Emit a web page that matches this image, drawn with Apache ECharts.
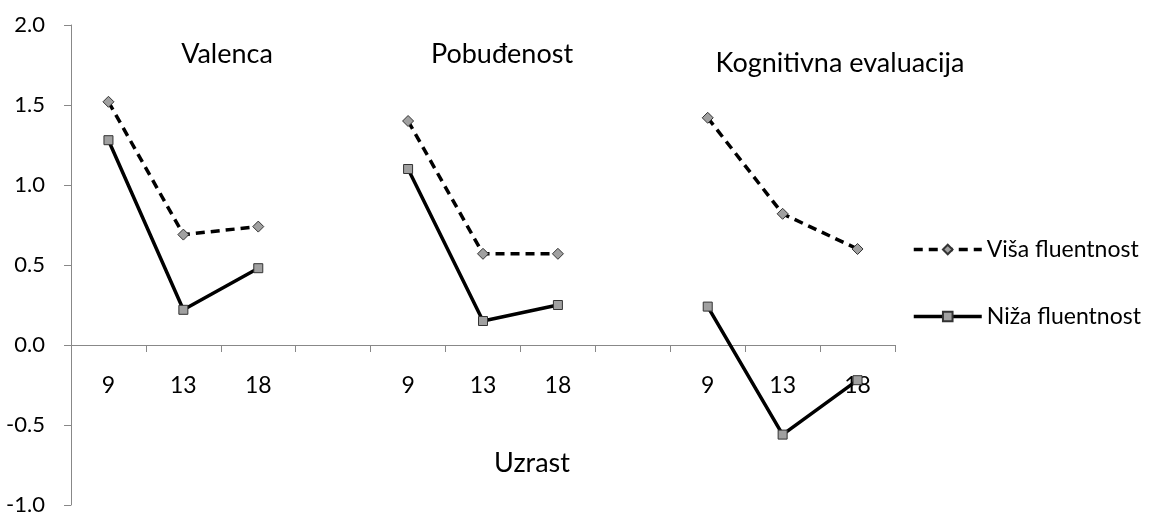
<!DOCTYPE html>
<html>
<head>
<meta charset="utf-8">
<script src="https://cdn.jsdelivr.net/npm/echarts@6/dist/echarts.min.js"></script>
<style>
html,body{margin:0;padding:0;background:#fff;}
#c{width:1151px;height:513px;}
</style>
</head>
<body>
<div id="c"></div>
<script>
const categories = ['9','13','18','','9','13','18','','9','13','18'];
const panelTitles = ['Valenca','Pobuđenost','Kognitivna evaluacija'];
const xAxisTitle = 'Uzrast';
const seriesNames = ['Viša fluentnost','Niža fluentnost'];
const visaValues = [1.52, 0.69, 0.74, null, 1.40, 0.57, 0.57, null, 1.42, 0.82, 0.60];
const nizaValues = [1.28, 0.22, 0.48, null, 1.10, 0.15, 0.25, null, 0.24, -0.56, -0.22];
const yTicks = [-1.0, -0.5, 0.0, 0.5, 1.0, 1.5, 2.0];

const FONT = 'Lato';
const W = 1151, H = 513;
const gridTop = 25, gridBottom = 8;
const yMin = yTicks[0], yMax = yTicks[yTicks.length-1];
const plotH = H - gridTop - gridBottom;
const zeroOffset = -plotH * (0 - yMin) / (yMax - yMin);

const chart = echarts.init(document.getElementById('c'));
const markerStyle = {color:'#a0a0a0', borderColor:'#333', borderWidth:1};
const titleStyle = {fontFamily:FONT,fontSize:27,fontWeight:'normal',color:'#000'};
chart.setOption({
  animation:false,
  textStyle:{fontFamily:FONT},
  grid:{left:71, right:256, top:gridTop, bottom:gridBottom, containLabel:false, outerBoundsMode:'none'},
  title:[
    {text:panelTitles[0], left:222, top:36, textAlign:'center', textStyle:titleStyle},
    {text:panelTitles[1], left:497, top:36, textAlign:'center', textStyle:titleStyle},
    {text:panelTitles[2], left:835, top:45, textAlign:'center', textStyle:titleStyle},
    {text:xAxisTitle, left:527, top:445, textAlign:'center', textStyle:titleStyle}
  ],
  legend:{
    orient:'vertical', left:907, top:233, itemGap:44, itemWidth:68, itemHeight:12,
    textStyle:{fontFamily:FONT,fontSize:23,color:'#000'},
    lineStyle:{width:3.5},
    data:seriesNames
  },
  xAxis:{
    type:'category', data:categories, boundaryGap:true, position:'bottom',
    offset:zeroOffset,
    axisLine:{onZero:false, lineStyle:{color:'#888',width:1}},
    axisTick:{show:true, interval:0, length:7, lineStyle:{color:'#888'}},
    axisLabel:{interval:0, margin:29, fontFamily:FONT, fontSize:23, color:'#000'},
    splitLine:{show:false}
  },
  yAxis:{
    type:'value', min:yMin, max:yMax, interval:0.5,
    axisLine:{show:true, lineStyle:{color:'#888',width:1}},
    axisTick:{show:true, inside:false, length:7, lineStyle:{color:'#888'}},
    axisLabel:{margin:26, fontFamily:FONT, fontSize:22, color:'#000', formatter:v=>v.toFixed(1)},
    splitLine:{show:false}
  },
  series:[
    {name:seriesNames[0], type:'line', data:visaValues, connectNulls:false,
     symbol:'diamond', symbolSize:11, itemStyle:markerStyle,
     lineStyle:{color:'#000', width:3.5, type:[9,6]}},
    {name:seriesNames[1], type:'line', data:nizaValues, connectNulls:false,
     symbol:'rect', symbolSize:9, itemStyle:markerStyle,
     lineStyle:{color:'#000', width:3.5, type:'solid'}}
  ]
});
</script>
</body>
</html>
